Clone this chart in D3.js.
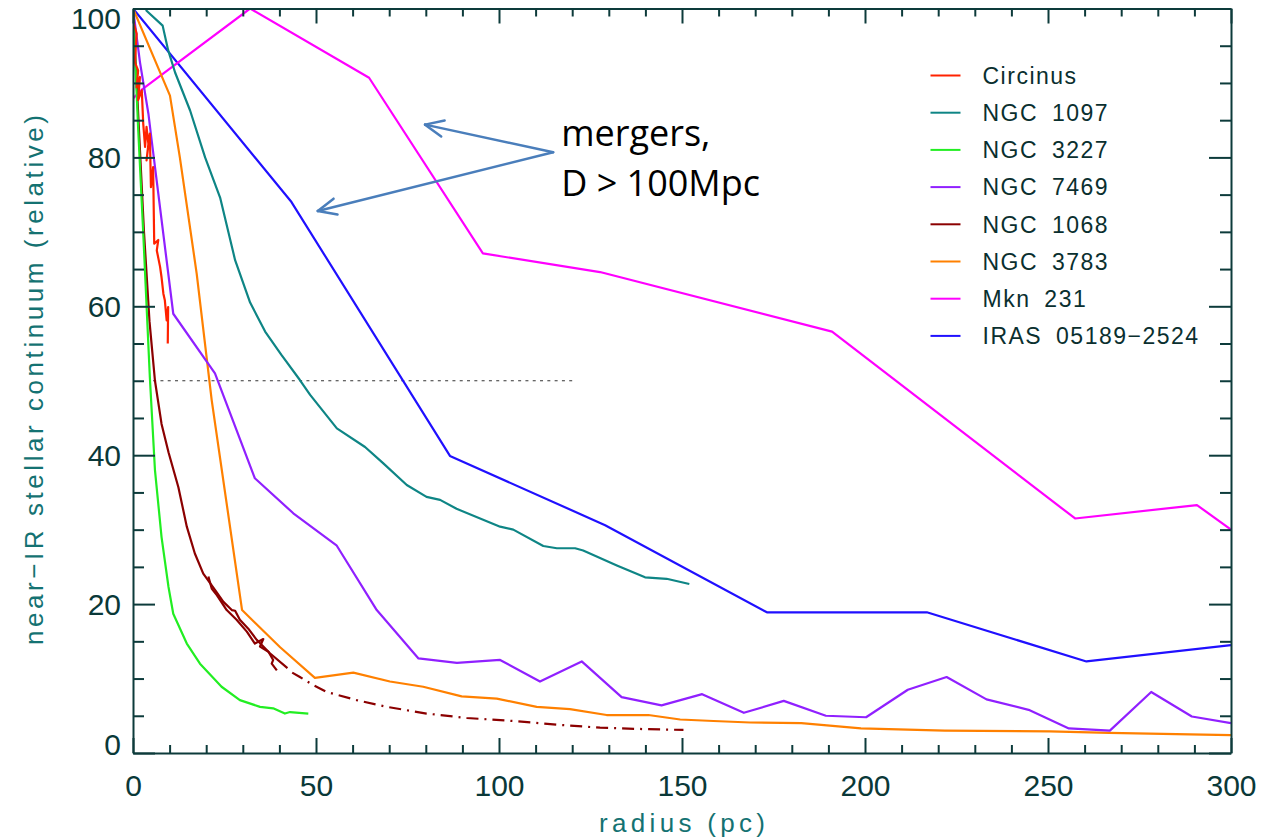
<!DOCTYPE html>
<meta charset="utf-8">
<style>
body { margin: 0; background-color: #fff; }

.axis path, .axis line {
  stroke: #0d3b3b;
  stroke-width: 2px;
}
.axis text {
  fill: #0a3838;
  font-family: "Liberation Sans", Arial, sans-serif;
  font-size: 30px;
}
.line {
  fill: none;
  stroke-width: 2.2px;
  stroke-linejoin: round;
}
.title {
  fill: #147272;
  font-family: "Liberation Sans", Arial, sans-serif;
  font-size: 26px;
}
.legend text {
  fill: #0a2f2f;
  font-family: "Liberation Sans", Arial, sans-serif;
  font-size: 23px;
  letter-spacing: 1.5px;
  word-spacing: 6px;
}
.note {
  fill: #000;
  font-family: "Open Sans", "Noto Sans", sans-serif;
  font-size: 36px;
}
</style>
<body>
<script src="https://cdn.jsdelivr.net/npm/d3@7"></script>
<script>

// tick values
var radiusTicks = [0, 50, 100, 150, 200, 250, 300];
var contTicks = [0, 20, 40, 60, 80, 100];

// profiles: [radius (pc), continuum (relative)]
var circinus = [[0,100],[0.1,98.2],[1,96.6],[0.5,92.8],[1.4,91.7],[1,89.4],[1.9,90.8],[1.4,87.7],
  [2.4,89],[2.8,84.5],[3.3,81.4],[3.7,84.1],[4.2,81.8],[3.7,79.6],[4.6,83.2],[4.9,76],[5.5,78.7],
  [5.8,68.4],[6.9,68.9],[6.5,67.5],[7.4,65.3],[7.8,63.9],[8.3,61.7],[8.7,60.8],[9.2,58.1],
  [9.6,59.9],[9.5,55]];

var ngc1097 = [[3.5,100],[3.7,99.7],[8.1,97.7],[9.6,94.4],[11.5,91.4],[15.6,86.3],[19.7,80],
  [23.8,74.6],[27.9,66.2],[32,60.5],[36.1,56.6],[40.5,53.5],[45.6,50.1],[48.4,48.1],[55.7,43.6],
  [63.4,41.1],[68.4,38.9],[74.8,36],[80.2,34.4],[83.9,34],[88.4,32.8],[100.3,30.4],[103.9,30],
  [112.1,27.8],[115.8,27.5],[120.8,27.5],[123,27.2],[132.2,25.2],[139.9,23.6],[145.8,23.4],[152,22.7]];

var ngc3227 = [[0,100],[1.4,84],[2.8,69.8],[4.6,50.5],[6,38],[7.8,29],[9.7,22.3],[11,18.7],
  [14.7,14.7],[18.3,12],[24.2,8.9],[29.2,7.1],[34.7,6.2],[38.3,6],[41.5,5.3],[42.9,5.5],[47.9,5.3]];

var ngc7469 = [[0,100],[1.9,92.8],[4.2,85.9],[5.1,82.3],[11,59],[22.4,51],[33.3,36.9],[43.8,32.2],
  [55.6,27.9],[66.6,19.2],[78,12.7],[88.5,12.1],[100.3,12.5],[111.2,9.6],[122.6,12.3],[133.5,7.5],
  [144.4,6.4],[155.5,7.9],[166.9,5.4],[177.8,7],[189.3,5],[200.3,4.8],[211.7,8.5],[222.3,10.2],
  [233.2,7.2],[244.7,5.8],[255.7,3.3],[266.9,3],[278.2,8.2],[289.3,4.9],[300,4]];

var ngc1068 = [[0,100],[1.5,85],[3,70],[4.5,58],[6,50],[7.8,44.2],[9.7,40.4],[12.4,35.7],
  [14.7,30.4],[16.9,26.8],[19.2,24.1],[22.4,21.9],[24.7,20.3],[27,19.2],[27.9,19.1],[29.2,17.9],
  [31.5,16.7],[33.8,15.2],[37.4,13.4],[42.2,11.4]];
var ngc1068b = [[20.6,23.7],[21.5,22.1],[22.9,21.2],[25.6,19.2],[28.3,17.9],[31.1,16.3],[33.3,14.7],
  [35.6,15.3],[34.7,14.3],[37,13.6],[38.3,12.5],[37.9,12],[39.3,11.1]];
var ngc1068fit = [[43.5,10.8],[45.6,10.2],[49.3,9.1],[52.9,8.2],[61.1,7.1],[69.3,6.2],[80.2,5.3],
  [91.2,4.7],[103.9,4.3],[115.8,3.8],[127.6,3.4],[140.3,3.2],[150.4,3.1]];

var ngc3783 = [[0,100],[10.1,88.3],[12.8,80],[17.4,64.4],[21.5,47.4],[29.8,19.2],[40.2,14.2],
  [49.7,10.1],[60.2,10.8],[70.2,9.6],[79.3,8.9],[89.8,7.6],[99.4,7.3],[110.3,6.2],[119.4,5.9],
  [129.4,5.1],[140.8,5.1],[149.5,4.5],[158.6,4.3],[168.6,4.1],[182.6,4],[198.9,3.3],[221.8,3],
  [250.5,2.9],[266.7,2.7],[288.7,2.5],[300,2.4]];

var mkn231 = [[0,87.9],[2.4,89.1],[32,100],[64.5,90.7],[95.6,67.1],[127.6,64.6],[191,56.6],
  [257.4,31.5],[290.7,33.3],[300,30]];

var iras05189 = [[0,100],[43.3,74],[86.6,39.9],[129,30.6],[173.2,18.9],[216.9,18.9],[260.5,12.3],[300,14.5]];

// half-light reference line
var halfLevel = 50, halfRange = [5.5, 120];

// annotation (data units)
var noteLines = ["mergers,", "D > 100Mpc"];
var noteFrom = [114.8, 80.7];
var noteTips = [[79.8, 84.4], [50.5, 72.8]];

var series = [
  {name: "Circinus",        data: circinus,  color: "#ff2200", legend: true},
  {name: "NGC 1097",        data: ngc1097,   color: "#0e8585", legend: true},
  {name: "NGC 3227",        data: ngc3227,   color: "#22ee22", legend: true},
  {name: "NGC 7469",        data: ngc7469,   color: "#9020ff", legend: true},
  {name: "NGC 1068",        data: ngc1068,   color: "#8b0000", legend: true},
  {name: "NGC 1068b",       data: ngc1068b,  color: "#8b0000", legend: false},
  {name: "NGC 1068fit",     data: ngc1068fit,color: "#8b0000", legend: false, dash: "12,6,2,6"},
  {name: "NGC 3783",        data: ngc3783,   color: "#ff8000", legend: true},
  {name: "Mkn 231",         data: mkn231,    color: "#ff00ff", legend: true},
  {name: "IRAS 05189\u22122524", data: iras05189, color: "#2010ff", legend: true}
];

var margin = {top: 8.5, right: 41, bottom: 87, left: 133},
    width = 1272 - margin.left - margin.right,
    height = 840 - margin.top - margin.bottom;

var x = d3.scaleLinear().domain([0, 300]).range([0, width]);
var y = d3.scaleLinear().domain([0, 100]).range([height, 0]);

var svg = d3.select("body").append("svg")
    .attr("width", 1272)
    .attr("height", 840)
  .append("g")
    .attr("transform", "translate(" + margin.left + "," + margin.top + ")");

svg.append("clipPath").attr("id", "plot")
  .append("rect").attr("width", width).attr("height", height);

var line = d3.line()
    .x(function(d) { return x(d[0]); })
    .y(function(d) { return y(d[1]); });

// dotted 50% line
svg.append("line")
    .attr("x1", x(halfRange[0])).attr("x2", x(halfRange[1]))
    .attr("y1", y(halfLevel)).attr("y2", y(halfLevel))
    .style("stroke", "#333")
    .style("stroke-width", 1)
    .style("stroke-dasharray", "3,4.3");

// profiles
svg.append("g").attr("clip-path", "url(#plot)")
  .selectAll("path")
  .data(series.slice().reverse())
  .enter().append("path")
    .attr("class", "line")
    .style("stroke", function(d) { return d.color; })
    .style("stroke-dasharray", function(d) { return d.dash || null; })
    .attr("d", function(d) { return line(d.data); });

// minor tick values
var xMinor = d3.range(0, 301, 10).filter(function(v) { return v % 50 !== 0; });
var yMinor = d3.range(0, 101, 5).filter(function(v) { return v % 20 !== 0; });

// bottom axis
svg.append("g")
    .attr("class", "axis")
    .attr("transform", "translate(0," + height + ")")
    .call(d3.axisBottom(x).tickValues(radiusTicks).tickSize(-15).tickSizeOuter(0).tickPadding(22));
svg.append("g")
    .attr("class", "axis")
    .attr("transform", "translate(0," + height + ")")
    .call(d3.axisBottom(x).tickValues(xMinor).tickSize(-8).tickFormat(""))
    .select(".domain").remove();

// top axis
svg.append("g")
    .attr("class", "axis")
    .call(d3.axisTop(x).tickValues(radiusTicks).tickSize(-15).tickSizeOuter(0).tickFormat(""));
svg.append("g")
    .attr("class", "axis")
    .call(d3.axisTop(x).tickValues(xMinor).tickSize(-8).tickFormat(""))
    .select(".domain").remove();

// left axis
var yAxisG = svg.append("g")
    .attr("class", "axis")
    .call(d3.axisLeft(y).tickValues(contTicks).tickSize(-22).tickSizeOuter(0).tickPadding(12));
yAxisG.selectAll(".tick text")
    .attr("dy", function(d) { return d === 100 ? "0.66em" : d === 0 ? "0.05em" : "0.34em"; });
svg.append("g")
    .attr("class", "axis")
    .call(d3.axisLeft(y).tickValues(yMinor).tickSize(-11).tickFormat(""))
    .select(".domain").remove();

// right axis
svg.append("g")
    .attr("class", "axis")
    .attr("transform", "translate(" + width + ",0)")
    .call(d3.axisRight(y).tickValues(contTicks).tickSize(-22).tickSizeOuter(0).tickFormat(""));
svg.append("g")
    .attr("class", "axis")
    .attr("transform", "translate(" + width + ",0)")
    .call(d3.axisRight(y).tickValues(yMinor).tickSize(-11).tickFormat(""))
    .select(".domain").remove();

// axis titles
svg.append("text")
    .attr("class", "title")
    .attr("transform", "translate(" + (43 - margin.left) + "," + (380 - margin.top) + ") rotate(-90)")
    .attr("text-anchor", "middle")
    .attr("textLength", 530)
    .attr("lengthAdjust", "spacing")
    .text("near\u2212IR stellar continuum (relative)");

svg.append("text")
    .attr("class", "title")
    .attr("x", x(150))
    .attr("y", height + 79)
    .attr("text-anchor", "middle")
    .attr("textLength", 166)
    .attr("lengthAdjust", "spacing")
    .text("radius (pc)");

// legend
var legendItems = series.filter(function(d) { return d.legend; });
var legend = svg.append("g")
    .attr("class", "legend")
    .attr("transform", "translate(" + (930.5 - margin.left) + "," + (75.5 - margin.top) + ")");
var row = legend.selectAll("g")
    .data(legendItems)
  .enter().append("g")
    .attr("transform", function(d, i) { return "translate(0," + (i * 37.2) + ")"; });
row.append("line")
    .attr("x1", 0).attr("x2", 30)
    .style("stroke", function(d) { return d.color; })
    .style("stroke-width", 2);
row.append("text")
    .attr("x", 52)
    .attr("dy", "0.36em")
    .text(function(d) { return d.name; });

// annotation
var note = svg.append("g");
note.selectAll("text")
    .data(noteLines)
  .enter().append("text")
    .attr("class", "note")
    .attr("x", x(noteFrom[0]) + 8)
    .attr("y", function(d, i) { return y(noteFrom[1]) - 6 + i * 50; })
    .text(function(d) { return d; });

noteTips.forEach(function(t) {
  var x0 = x(noteFrom[0]), y0 = y(noteFrom[1]),
      x1 = x(t[0]), y1 = y(t[1]);
  var ang = Math.atan2(y0 - y1, x0 - x1), len = 20, spread = 0.42;
  note.append("line")
      .attr("x1", x0).attr("y1", y0).attr("x2", x1).attr("y2", y1);
  [-1, 1].forEach(function(s) {
    note.append("line")
        .attr("x1", x1).attr("y1", y1)
        .attr("x2", x1 + len * Math.cos(ang + s * spread))
        .attr("y2", y1 + len * Math.sin(ang + s * spread));
  });
});
note.selectAll("line")
    .style("stroke", "#4a7ebb")
    .style("stroke-width", 2.5)
    .style("stroke-linecap", "round");

</script>
</body>
